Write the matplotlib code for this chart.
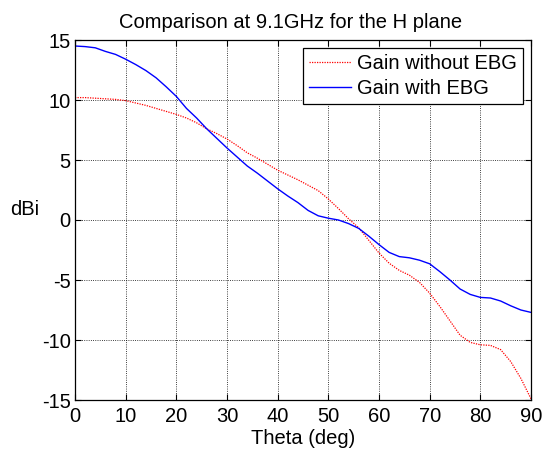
import matplotlib
matplotlib.use("Agg")
import matplotlib.pyplot as plt

plt.rcParams.update({"font.family": ["Liberation Sans", "DejaVu Sans"], "font.size": 14.5,
                     "axes.unicode_minus": False})

theta = [0, 2, 4, 6, 8, 10, 12, 14, 16, 18, 20, 22, 24, 26, 28, 30, 32, 34, 36, 38, 40,
         42, 44, 46, 48, 50, 52, 54, 56, 58, 60, 62, 64, 66, 68, 70, 72, 74, 76, 78, 80,
         82, 84, 86, 88, 90]

gain_with_ebg = [14.5, 14.45, 14.35, 14.05, 13.8, 13.4, 12.95, 12.45, 11.85, 11.1, 10.3,
                 9.3, 8.5, 7.6, 6.8, 6.0, 5.25, 4.5, 3.9, 3.25, 2.6, 2.0, 1.45, 0.8, 0.35,
                 0.15, 0.0, -0.3, -0.7, -1.35, -2.05, -2.7, -3.05, -3.15, -3.35, -3.65,
                 -4.3, -5.0, -5.75, -6.2, -6.45, -6.5, -6.75, -7.15, -7.5, -7.7]

gain_without_ebg = [10.2, 10.2, 10.15, 10.1, 10.05, 9.95, 9.75, 9.55, 9.3, 9.05, 8.8,
                    8.5, 8.1, 7.6, 7.2, 6.75, 6.2, 5.6, 5.15, 4.65, 4.15, 3.75, 3.35, 2.9,
                    2.45, 1.75, 0.95, 0.1, -0.65, -1.7, -2.75, -3.6, -4.2, -4.6, -5.2,
                    -6.1, -7.2, -8.4, -9.6, -10.2, -10.4, -10.45, -10.8, -11.8, -13.2, -14.9]

x_ticks = list(range(0, 91, 10))
y_ticks = list(range(-15, 16, 5))

fig = plt.figure(figsize=(5.45, 4.53), dpi=100)
ax = fig.add_axes([75 / 545, 1 - 400 / 453, 456 / 545, 360 / 453])

ax.plot(theta, gain_without_ebg, color="red", linestyle=(0, (1, 1)), linewidth=0.9,
        label="Gain without EBG")
ax.plot(theta, gain_with_ebg, color="blue", linewidth=1.0, label="Gain with EBG")

ax.set_xlim(0, 90)
ax.set_ylim(-15, 15)
ax.set_xticks(x_ticks)
ax.set_yticks(y_ticks)
ax.tick_params(direction="in", top=True, right=True, length=4, width=0.8, labelsize=14.5)
ax.tick_params(axis="x", pad=5)
ax.tick_params(axis="y", pad=3)
ax.grid(True, color="black", linestyle=":", linewidth=0.6)
for s in ax.spines.values():
    s.set_linewidth(0.9)

ax.set_title("Comparison at 9.1GHz for the H plane", fontsize=14.5, pad=8.5, x=0.472)
ax.set_xlabel("Theta (deg)", fontsize=14.5, labelpad=2)
ax.set_ylabel("dBi", fontsize=14.5, rotation=0, ha="center", va="center")
ax.yaxis.set_label_coords(-0.11, 0.528)

leg = ax.legend(loc="upper right", fontsize=14.5, fancybox=False, framealpha=1,
                edgecolor="black", handlelength=2.1, handletextpad=0.3,
                borderpad=0.3, labelspacing=0.3, borderaxespad=0.4)
leg.get_frame().set_linewidth(0.9)

fig.savefig("out.png", dpi=100)
